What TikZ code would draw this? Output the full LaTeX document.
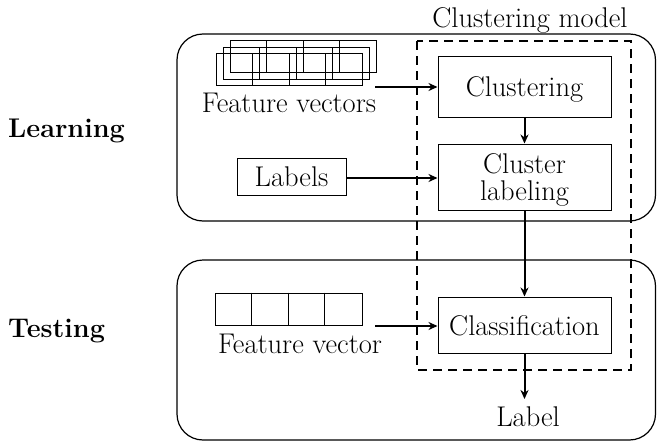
\documentclass[tikz,border=0pt]{standalone}
\usepackage{fontspec}
\setmainfont{Latin Modern Roman}
\usetikzlibrary{arrows.meta,calc}
\begin{document}
\begin{tikzpicture}[x=1pt,y=-1pt,
  txt/.style={font=\fontsize{28.5}{27}\selectfont, inner sep=0pt},
  head/.style={font=\fontsize{27}{27}\selectfont\bfseries, inner sep=0pt},
  box/.style={draw, line width=1pt, inner sep=0pt, minimum width=173pt,
    text depth=0pt, align=center, txt},
  phase/.style={draw, line width=1.2pt, rounded corners=26pt},
  model/.style={draw, line width=2.4pt, dash pattern=on 9pt off 6pt},
  flow/.style={line width=2pt, -{Stealth[length=9pt,width=8pt]}},
  cell/.style={draw, line width=0.9pt}]
\useasboundingbox (0,0) rectangle (657,442);

% learning and testing phases
\draw[phase] (177,34) rectangle (655.5,221);
\draw[phase] (177,260) rectangle (655.5,440);
\node[head, anchor=base west] (learn) at (8,137) {Learning};
\node[head, anchor=base west] (test) at (8,337) {Testing};

% clustering model frame
\draw[model] (417,41) rectangle (631,370);
\node[txt, anchor=base] (modeltitle) at (530,27) {Clustering model};

% processing blocks
\node[box, minimum height=61pt] (clu) at (524.5,86.5) {Clustering};
\node[box, minimum height=66pt] (clab) at (524.5,177) {Cluster\\labeling};
\node[box, minimum height=56pt] (cls) at (524.5,325) {Classification};
\node[box, minimum width=109pt, minimum height=37pt] (labels) at (291.5,176.5) {Labels};

% stack of training feature vectors
\foreach \dx/\dy in {14/-13, 7/-6.5, 0/0} {
  \begin{scope}[shift={(\dx,\dy)}]
    \draw[cell] (216,53.5) rectangle (362,85.5);
    \foreach \k in {1,2,3} \draw[cell] (216+36.5*\k,53.5) -- (216+36.5*\k,85.5);
  \end{scope}
}
\node[txt, anchor=base] (fvs) at (289,112) {Feature vectors};
\coordinate (fvsout) at (375,87);

% single test feature vector
\node[cell, minimum width=147pt, minimum height=32pt, inner sep=0pt] (fv) at (288.5,309) {};
\foreach \k in {1,2,3} \draw[cell] ($(fv.north west)+(36.75*\k,0)$) -- ($(fv.south west)+(36.75*\k,0)$);
\node[txt, anchor=base] (fvt) at (300,353) {Feature vector};
\coordinate (fvout) at (375,326);

% output label
\node[txt, anchor=base, inner ysep=0pt] (lab) at (528,426) {Label};
\coordinate (labin) at (524.5,399);

% connectors
\draw[flow] (fvsout) -- (fvsout -| clu.west);
\draw[flow] (labels.east |- 0,178) -- (clab.west |- 0,178);
\draw[flow] (clu.south) -- (clab.north);
\draw[flow] (clab.south) -- (cls.north);
\draw[flow] (fvout) -- (fvout -| cls.west);
\draw[flow] (cls.south) -- (labin);
\end{tikzpicture}
\end{document}
